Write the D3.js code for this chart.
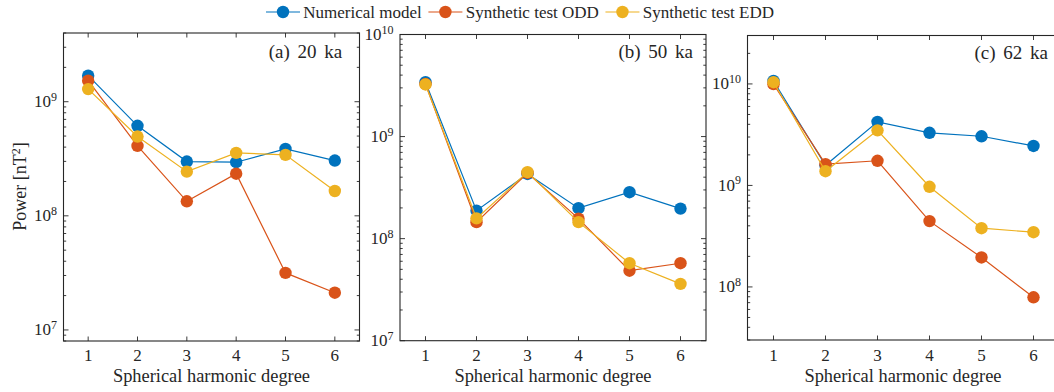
<!DOCTYPE html>
<html>
<head>
<meta charset="utf-8">
<script src="https://cdn.jsdelivr.net/npm/d3@7"></script>
<style>
  html, body { margin: 0; padding: 0; background: #fff; }
  svg { display: block; }
</style>
</head>
<body>
<svg id="chart" width="1054" height="392" font-family="'DejaVu Serif', 'Liberation Serif', serif"></svg>
<script>
// Spherical harmonic degrees on the x axis
const degrees = [1, 2, 3, 4, 5, 6];
const seriesNames = ["Numerical model", "Synthetic test ODD", "Synthetic test EDD"];
const seriesColors = ["#0072BD", "#D95319", "#EDB120"];

// (a) 20 ka power spectra [nT^2]
const numerical20 = [1.69e9, 6.15e8, 2.99e8, 2.95e8, 3.86e8, 3.05e8];
const odd20       = [1.53e9, 4.10e8, 1.34e8, 2.34e8, 3.16e7, 2.12e7];
const edd20       = [1.29e9, 4.95e8, 2.44e8, 3.56e8, 3.42e8, 1.65e8];

// (b) 50 ka
const numerical50 = [3.41e9, 1.88e8, 4.30e8, 1.99e8, 2.85e8, 1.97e8];
const odd50       = [3.27e9, 1.45e8, 4.40e8, 1.57e8, 4.85e7, 5.74e7];
const edd50       = [3.24e9, 1.58e8, 4.48e8, 1.45e8, 5.74e7, 3.60e7];

// (c) 62 ka
const numerical62 = [1.07e10, 1.58e9, 4.23e9, 3.30e9, 3.05e9, 2.45e9];
const odd62       = [9.95e9, 1.62e9, 1.75e9, 4.45e8, 1.95e8, 7.90e7];
const edd62       = [1.04e10, 1.38e9, 3.49e9, 9.70e8, 3.79e8, 3.46e8];

// Panel titles and y-axis ranges
const panelTitles = ["(a) 20 ka", "(b) 50 ka", "(c) 62 ka"];
const yDomains = [[8e6, 4e9], [1e7, 1e10], [3e7, 3e10]];
const xDomain = [0.5, 6.5];

const panelSeries = [
  [numerical20, odd20, edd20],
  [numerical50, odd50, edd50],
  [numerical62, odd62, edd62]
];

// Axes boxes (pixels)
const boxes = [
  { x0: 63.5,  x1: 359.5,  y0: 33.0, y1: 341.0, titleRight: 342.3, titleBase: 57.5 },
  { x0: 400.0, x1: 706.0,  y0: 34.5, y1: 340.7, titleRight: 693.0, titleBase: 57.5 },
  { x0: 747.5, x1: 1059.5, y0: 35.5, y1: 340.0, titleRight: 1048.0, titleBase: 58.5 }
];

const axisColor = "#262626";
const fontFamily = "Liberation Serif";
const svg = d3.select("#chart");

function label(parent) {
  return parent.append("text").attr("font-family", fontFamily).attr("fill", axisColor);
}

panelSeries.forEach((series, p) => {
  const b = boxes[p];
  const x = d3.scaleLinear().domain(xDomain).range([b.x0, b.x1]);
  const y = d3.scaleLog().domain(yDomains[p]).range([b.y1, b.y0]);
  const g = svg.append("g");

  // Log-scale ticks: decades are major, 2..9 multiples are minor
  const [lo, hi] = yDomains[p];
  const majors = [], minors = [];
  for (let e = Math.floor(Math.log10(lo)); e <= Math.ceil(Math.log10(hi)); e++) {
    for (let m = 1; m <= 9; m++) {
      const v = m * Math.pow(10, e);
      if (v < lo * 0.9999 || v > hi * 1.0001) continue;
      (m === 1 ? majors : minors).push(v);
    }
  }

  const tickG = g.append("g").attr("stroke", axisColor).attr("stroke-width", 0.9);
  majors.forEach(v => {
    tickG.append("line").attr("x1", b.x0).attr("x2", b.x0 + 5).attr("y1", y(v)).attr("y2", y(v));
    tickG.append("line").attr("x1", b.x1).attr("x2", b.x1 - 5).attr("y1", y(v)).attr("y2", y(v));
  });
  minors.forEach(v => {
    tickG.append("line").attr("x1", b.x0).attr("x2", b.x0 + 2.7).attr("y1", y(v)).attr("y2", y(v));
    tickG.append("line").attr("x1", b.x1).attr("x2", b.x1 - 2.7).attr("y1", y(v)).attr("y2", y(v));
  });
  degrees.forEach(d => {
    tickG.append("line").attr("x1", x(d)).attr("x2", x(d)).attr("y1", b.y1).attr("y2", b.y1 - 4.5);
    tickG.append("line").attr("x1", x(d)).attr("x2", x(d)).attr("y1", b.y0).attr("y2", b.y0 + 4.5);
  });

  // Box outline
  g.append("rect")
    .attr("x", b.x0).attr("y", b.y0)
    .attr("width", b.x1 - b.x0).attr("height", b.y1 - b.y0)
    .attr("fill", "none").attr("stroke", axisColor).attr("stroke-width", 1.1);

  // y tick labels: 10^n
  majors.forEach(v => {
    const e = Math.round(Math.log10(v));
    const t = label(g)
      .attr("x", b.x0 - 6.5).attr("y", y(v) + 5.5)
      .attr("text-anchor", "end").attr("font-size", 17);
    t.append("tspan").text("10");
    t.append("tspan").attr("dy", -6.5).attr("font-size", 12).text(e);
  });

  // x tick labels
  degrees.forEach(d => {
    label(g).attr("x", x(d)).attr("y", 361)
      .attr("text-anchor", "middle").attr("font-size", 17).text(d);
  });

  // x axis label
  label(g).attr("x", (b.x0 + Math.min(b.x1, 1058.5)) / 2).attr("y", 382)
    .attr("text-anchor", "middle").attr("font-size", 18.4)
    .text("Spherical harmonic degree");

  // panel title
  label(g).attr("x", b.titleRight).attr("y", b.titleBase)
    .attr("text-anchor", "end").attr("font-size", 19).attr("word-spacing", 3)
    .text(panelTitles[p]);

  // series: line then markers, drawn in order
  const line = d3.line().x((v, i) => x(degrees[i])).y(v => y(v));
  series.forEach((vals, s) => {
    const sg = g.append("g");
    sg.append("path").datum(vals)
      .attr("d", line).attr("fill", "none")
      .attr("stroke", seriesColors[s]).attr("stroke-width", 1.2);
    sg.selectAll("circle").data(vals).join("circle")
      .attr("cx", (v, i) => x(degrees[i])).attr("cy", v => y(v))
      .attr("r", 6.2).attr("fill", seriesColors[s]);
  });
});

// y axis label
const yl = label(svg)
  .attr("transform", "translate(25.5,186.5) rotate(-90)")
  .attr("text-anchor", "middle").attr("font-size", 18);
yl.append("tspan").text("Power [nT");
yl.append("tspan").attr("dy", -6).attr("font-size", 12).text("2");
yl.append("tspan").attr("dy", 6).text("]");

// Legend across the top
const legend = svg.append("g");
let lx = 266;
const ly = 12;
seriesNames.forEach((name, s) => {
  legend.append("line")
    .attr("x1", lx).attr("x2", lx + 34).attr("y1", ly).attr("y2", ly)
    .attr("stroke", seriesColors[s]).attr("stroke-width", 1.2);
  legend.append("circle")
    .attr("cx", lx + 17).attr("cy", ly).attr("r", 6.2).attr("fill", seriesColors[s]);
  const t = label(legend)
    .attr("x", lx + 37.3).attr("y", ly + 5.5)
    .attr("font-size", 17).text(name);
  lx += 37.3 + t.node().getComputedTextLength() + 6.6;
});
</script>
</body>
</html>
